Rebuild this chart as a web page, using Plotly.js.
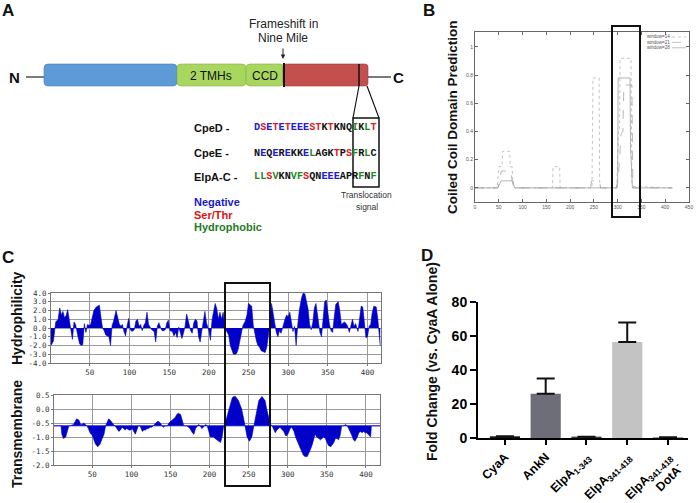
<!DOCTYPE html>
<html><head><meta charset="utf-8">
<script src="https://cdn.plot.ly/plotly-3.0.1.min.js"></script>
<style>html,body{margin:0;padding:0;background:#fff}#c{width:696px;height:503px}</style>
</head><body><div id="c"></div>
<script>
// ---------- Panel A: sequences ----------
const seqNames = ['CpeD -', 'CpeE -', 'ElpA-C -'];
const seqs = ['DSETETEEESTKTKNQIKLT', 'NEQEREKKELAGKTPSFRLC', 'LLSVKNVFSQNEEEAPRFNF'];
const seqCodes = ['brbrbrbbbrrkrkkkgkgr', 'kbkbkbkkbgkkkrkrgkgk', 'ggrgkkggrkkbbbkkkgkg'];
const legendA = ['Negative', 'Ser/Thr', 'Hydrophobic'];

// ---------- Panel B: coiled coil prediction ----------
const ccX14 = [0,44,47,50,57,58,73,74,78,80,84,163,164,178,179,246,248,261,262,264,298,302,304,305,328,330,334,415];
const ccY14 = [0,0,0.02,0.15,0.15,0.26,0.26,0.15,0.15,0.02,0,0,0.15,0.15,0,0,0.78,0.78,0.05,0,0,0.4,0.4,0.92,0.92,0.02,0.01,0];
const ccX21 = [0,48,52,55,75,78,82,243,245,262,264,299,303,307,311,313,330,332,415];
const ccY21 = [0,0,0.05,0.12,0.12,0.05,0,0,0.05,0.05,0,0,0.15,0.38,0.4,0.73,0.73,0,0];
const ccX28 = [0,48,52,55,80,83,297,300,301,326,327,331,415];
const ccY28 = [0,0,0.03,0.05,0.05,0,0,0.05,0.78,0.78,0.29,0,0];
const ccNames = ['window=14', 'window=21', 'window=28'];

// ---------- Panel C: hydrophilicity ----------
const hydroRes = [1,4,6,7,10,12,14,16,18,20,22,24,26,28,30,32,34,37,39,41,43,45,47,49,51,53,55,58,60,62,64,66,68,70,74,76,78,80,83,85,87,89,91,93,95,97,99,101,103,106,108,110,112,114,116,118,120,122,124,126,128,131,133,135,137,139,141,143,145,147,149,151,154,156,158,160,162,164,166,168,170,172,174,177,179,181,183,185,187,189,191,193,195,197,200,202,204,206,208,210,212,214,216,218,220,222,225,227,229,231,233,235,237,239,241,243,246,248,250,252,254,256,258,260,262,264,266,269,271,273,275,277,279,281,283,285,287,289,291,294,296,298,300,302,304,306,308,310,312,314,317,319,321,323,325,327,329,331,333,335,337,340,342,344,346,348,350,352,354,356,358,360,363,365,367,369,371,373,375,377,379,381,383,385,388,390,392,394,396,398,400,402,404,406,408,411,413,415,416];
const hydroVal = [-2.0,-1.5,0,0.7,1.0,2.3,1.5,1.9,1.2,1.4,2.1,0.8,-0.3,-1.3,0.7,0.4,-0.5,-1.8,-2.0,-1.9,0.5,-0.5,0.4,0.3,0.4,1.2,2.0,2.4,2.5,2.6,1.2,0,-0.3,-0.8,-1.0,-2.0,0.3,0.8,2.0,1.3,0.5,0.2,0.4,-0.4,-0.9,0.3,1.1,-0.2,-0.4,-0.2,0.8,1.0,0.2,0.4,-0.3,0.3,0.6,1.8,0.4,0.1,-0.2,-0.4,-1.6,0.2,0.6,0.1,-0.3,-0.3,-0.2,0.6,0.9,-0.3,-0.4,-0.9,-0.5,-1.1,0.1,-0.5,-1.2,-0.6,0.2,1.6,0.9,-0.3,-0.6,0.6,1.0,0.8,-1.0,-1.6,-0.4,0.9,1.9,0.6,-0.3,-1.4,0.9,1.9,2.8,2.2,1.0,1.8,1.0,1.8,0.3,-0.3,-0.8,-2.0,-2.6,-3.0,-3.0,-2.9,-2.4,-1.6,-0.5,0.3,0.8,1.5,2.8,2.6,2.5,0.3,-0.8,-1.5,-2.0,-2.2,-2.6,-2.7,-2.8,-2.2,-1.0,0.5,2.8,1.5,0.3,-0.5,-1.0,-0.3,-0.6,0.5,1.0,1.5,1.3,1.8,0.7,-0.4,0.2,-2.0,0.3,2.0,3.5,4.0,3.9,3.0,2.2,0.4,-0.2,0.6,2.3,2.8,1.6,-0.5,-1.0,1.0,3.0,3.2,1.8,0.4,-0.3,-0.5,1.2,2.7,3.0,2.0,0.4,0.6,0.7,0.5,0.2,-0.5,0.3,1.0,0.2,0.5,-0.4,1.2,2.5,2.4,0.2,-1.1,-1.0,0.2,0.4,1.8,2.5,2.4,1.0,-1.7,-2.0];

// ---------- Panel C: transmembrane ----------
const tmRes = [1,10,11,13,16,18,20,22,26,28,30,33,35,37,39,41,43,45,47,50,52,54,57,60,62,65,67,69,71,73,75,77,79,82,84,86,88,90,92,94,97,99,101,103,105,107,109,111,114,116,118,120,122,124,126,128,131,133,135,137,139,141,143,146,148,150,152,154,156,158,160,163,165,167,169,171,173,175,178,180,182,184,186,188,190,192,195,197,199,201,203,205,207,209,212,214,216,218,220,222,224,227,229,231,233,237,241,244,246,248,251,254,256,259,261,263,267,271,273,276,278,280,282,284,286,288,290,293,295,297,299,301,303,305,308,310,312,316,320,322,325,327,329,331,333,335,337,340,342,344,346,348,350,352,355,359,361,363,365,367,369,372,374,376,378,380,382,384,386,389,391,393,395,397,399,401,406,407,418];
const tmVal = [-0.6,-0.6,-0.9,-1.05,-1.0,-0.8,-0.6,-0.6,-0.55,-0.45,-0.35,-0.4,-0.55,-0.55,-0.5,-0.55,-0.6,-0.7,-0.85,-0.95,-1.1,-1.25,-1.35,-1.25,-1.1,-0.9,-0.6,-0.45,-0.35,-0.4,-0.5,-0.55,-0.6,-0.7,-0.8,-0.75,-0.65,-0.7,-0.75,-0.7,-0.75,-0.75,-0.7,-0.8,-0.9,-0.75,-0.6,-0.6,-0.8,-0.75,-0.75,-0.7,-0.7,-0.65,-0.65,-0.6,-0.5,-0.45,-0.45,-0.5,-0.6,-0.65,-0.6,-0.6,-0.5,-0.45,-0.4,-0.35,-0.3,-0.2,-0.15,-0.2,-0.4,-0.6,-0.6,-0.6,-0.65,-0.7,-0.85,-0.9,-0.7,-0.6,-0.55,-0.6,-0.7,-0.65,-0.55,-0.6,-0.8,-1.0,-1.0,-1.0,-1.05,-1.1,-1.15,-1.2,-1.0,-0.6,-0.5,-0.3,-0.05,0.2,0.4,0.45,0.45,0.3,0.0,-0.4,-0.7,-1.0,-1.15,-1.0,-0.7,-0.3,0.0,0.3,0.45,0.3,0.0,-0.3,-0.55,-0.6,-0.75,-0.85,-0.75,-0.7,-0.65,-0.75,-0.8,-0.95,-0.95,-0.85,-0.7,-0.65,-0.8,-1.0,-1.15,-1.4,-1.65,-1.7,-1.7,-1.6,-1.45,-1.3,-1.1,-0.9,-1.0,-1.05,-1.1,-1.05,-1.0,-1.05,-1.15,-1.3,-1.35,-1.2,-1.05,-1.05,-1.1,-0.95,-0.6,-0.6,-0.55,-0.6,-0.7,-0.8,-0.95,-1.1,-1.15,-1.0,-0.85,-0.8,-0.85,-0.8,-0.85,-0.85,-1.0,-0.6,-0.6];
const tmBaseline = -0.6;

// ---------- Panel D: fold change ----------
const foldLabels = ['CyaA','AnkN','ElpA<sub>1-343</sub>','ElpA<sub>341-418</sub>','ElpA<sub>341-418</sub><br>DotA<sup>-</sup>'];
const foldVals = [1.0, 26, 0.8, 56.5, 0.4];
const foldErr = [0, 9, 0, 11.5, 0];

// ---------- helpers (pixel -> paper) ----------
const W = 696, H = 503;
const X = v => v / W, Y = v => 1 - v / H;
const FONT = 'Arial, Liberation Sans, sans-serif';
const shapes = [], ann = [];
function ln(x0, y0, x1, y1, w, c, dash) {
  shapes.push({type:'line', xref:'paper', yref:'paper', x0:X(x0), y0:Y(y0), x1:X(x1), y1:Y(y1),
    line:{width:w, color:c || '#000', dash: dash || 'solid'}, layer:'above'});
}
function box(x0, y0, x1, y1, w, c) {
  shapes.push({type:'rect', xref:'paper', yref:'paper', x0:X(x0), y0:Y(y1), x1:X(x1), y1:Y(y0),
    line:{width:w, color:c || '#000'}, fillcolor:'rgba(0,0,0,0)', layer:'above'});
}
function rrect(x0, y0, x1, y1, r, fill, lc) {
  const p = (a, b) => X(a) + ',' + Y(b);
  const d = 'M' + p(x0 + r, y0) + ' L' + p(x1 - r, y0) + ' Q' + p(x1, y0) + ' ' + p(x1, y0 + r) +
    ' L' + p(x1, y1 - r) + ' Q' + p(x1, y1) + ' ' + p(x1 - r, y1) + ' L' + p(x0 + r, y1) +
    ' Q' + p(x0, y1) + ' ' + p(x0, y1 - r) + ' L' + p(x0, y0 + r) + ' Q' + p(x0, y0) + ' ' + p(x0 + r, y0) + ' Z';
  shapes.push({type:'path', xref:'paper', yref:'paper', path:d, fillcolor:fill, line:{width:0.6, color:lc}, layer:'above'});
}
function txt(x, y, text, size, o) {
  o = o || {};
  ann.push(Object.assign({xref:'paper', yref:'paper', x:X(x), y:Y(y), text:text, showarrow:false,
    xanchor:'center', yanchor:'middle', font:{family:FONT, size:size, color:'#111'}}, o));
}

// ---------- Panel A drawing ----------
txt(8, 11, '<b>A</b>', 17);
txt(14, 77, '<b>N</b>', 15);
ln(26, 77, 44, 77, 1.2, '#222');
rrect(44, 64, 177, 86, 4, '#5e9ad8', '#4a7fb8');
rrect(177, 64, 246, 86, 4, '#a8d65e', '#86b040');
rrect(246, 64, 284, 86, 4, '#a8d65e', '#86b040');
rrect(283, 64, 368, 86, 3, '#c4504e', '#a03c3a');
ln(284, 63, 284, 87, 2, '#111');
ln(359, 64, 359, 86, 1.5, '#111');
ln(368, 77, 391, 77, 1.2, '#222');
txt(398, 77, '<b>C</b>', 15);
txt(211, 76, '2 TMHs', 12);
txt(265, 76, 'CCD', 12);
txt(283, 24, 'Frameshift in', 12, {font:{family:FONT, size:12, color:'#222'}});
txt(283, 38, 'Nine Mile', 12, {font:{family:FONT, size:12, color:'#222'}});
ann.push({xref:'paper', yref:'paper', x:X(283), y:Y(59), ax:0, ay:-12, text:'', showarrow:true,
  arrowhead:2, arrowsize:0.9, arrowwidth:1, arrowcolor:'#222'});
// translocation callout
ln(359, 86, 353, 118, 1.2, '#111');
ln(367, 86, 379, 118, 1.2, '#111');
box(353, 118, 379, 187, 1.5, '#111');
txt(367, 195, 'Translocation', 8.5, {font:{family:FONT, size:8.5, color:'#333'}});
txt(367, 207, 'signal', 8.5, {font:{family:FONT, size:8.5, color:'#333'}});
const codeColor = {b:'#2020d0', r:'#e02020', g:'#208a20', k:'#111111'};
const rowY = [128, 153, 177];
seqs.forEach((s, i) => {
  let html = '';
  for (let j = 0; j < s.length; j++) html += '<span style="color:' + codeColor[seqCodes[i][j]] + '">' + s[j] + '</span>';
  txt(192, rowY[i], '<b>' + seqNames[i] + '</b>', 11, {xanchor:'left'});
  txt(252, rowY[i], '<b>' + html + '</b>', 10.2, {xanchor:'left', font:{family:'Liberation Mono, Courier New, monospace', size:10.2, color:'#111'}});
});
const legCols = ['#1a1acc', '#dd1111', '#1e7b1e'];
legendA.forEach((t, i) => txt(192, 202 + i * 12.5, '<b>' + t + '</b>', 11, {xanchor:'left', font:{family:FONT, size:11, color:legCols[i]}}));

// ---------- Panel B decorations ----------
txt(429, 11, '<b>B</b>', 17);
txt(453, 117, '<b>Coiled Coil Domain Prediction</b>', 13.5, {textangle:-90});
const ccStyles = [{dash:'dot', color:'#b4b4b4'}, {dash:'dash', color:'#a8a8a8'}, {dash:'solid', color:'#a0a0a0'}];
ccNames.forEach((n, i) => {
  txt(645, 37 + i * 5.4, n, 4.5, {xanchor:'left', font:{family:FONT, size:4.5, color:'#555'}});
  ln(672, 37 + i * 5.4, 686, 37 + i * 5.4, 0.7, ccStyles[i].color, ccStyles[i].dash);
});
box(612, 26, 640, 217, 2, '#111');

// ---------- Panel C decorations ----------
txt(8, 257, '<b>C</b>', 17);
txt(17, 318, '<b>Hydrophilicity</b>', 14, {textangle:-90});
txt(17, 434, '<b>Transmembrane</b>', 14, {textangle:-90});
box(225, 283, 270, 486, 2, '#111');

// ---------- Panel D decorations ----------
txt(427, 256, '<b>D</b>', 17);
txt(432, 362, '<b>Fold Change (vs. CyaA Alone)</b>', 14, {textangle:-90});

// ---------- traces ----------
const traces = [];
const ccX = [ccX14, ccX21, ccX28], ccY = [ccY14, ccY21, ccY28];
ccNames.forEach((n, i) => traces.push({x:ccX[i], y:ccY[i], name:n, mode:'lines', xaxis:'x', yaxis:'y',
  line:{width:0.8, dash:ccStyles[i].dash, color:ccStyles[i].color}, showlegend:false}));

traces.push({x:hydroRes, y:hydroVal, mode:'lines', fill:'tozeroy', fillcolor:'#0000c8',
  line:{width:0.6, color:'#0000c8'}, xaxis:'x2', yaxis:'y2', showlegend:false});

traces.push({x:[tmRes[0], tmRes[tmRes.length - 1]], y:[tmBaseline, tmBaseline], mode:'lines',
  line:{width:0.8, color:'#0000c8'}, xaxis:'x3', yaxis:'y3', showlegend:false});
traces.push({x:tmRes, y:tmVal, mode:'lines', fill:'tonexty', fillcolor:'#0000c8',
  line:{width:0.6, color:'#0000c8'}, xaxis:'x3', yaxis:'y3', showlegend:false});

traces.push({type:'bar', x:foldLabels.map((_, i) => i), y:foldVals, width:0.74,
  marker:{color:['#151515', '#6e6e78', '#3a3a3a', '#c3c3c3', '#777777']},
  error_y:{type:'data', symmetric:false, array:foldErr, arrayminus:foldErr.map(() => 0),
    thickness:2, width:9, color:'#111'},
  xaxis:'x4', yaxis:'y4', showlegend:false});

// ---------- axes ----------
const bTick = {family:FONT, size:5, color:'#555'};
const cTick = {family:'DejaVu Sans Mono, monospace', size:7.5, color:'#333'};
const hydTicks = [-4, -3, -2, -1, 0, 1, 2, 3, 4];
const tmTicks = [-2, -1.5, -1, -0.5, 0, 0.5];
const resTicks = [50, 100, 150, 200, 250, 300, 350, 400];
const layout = {
  width: W, height: H, margin:{l:0, r:0, t:0, b:0},
  paper_bgcolor:'#fff', plot_bgcolor:'rgba(0,0,0,0)', showlegend:false,
  xaxis:{domain:[475 / W, 689 / W], anchor:'y', range:[0, 450], tickvals:[0,50,100,150,200,250,300,350,400,450],
    ticks:'inside', ticklen:3, tickcolor:'#666', showline:true, linecolor:'#666', linewidth:1, mirror:'ticks',
    showgrid:false, zeroline:false, tickfont:bTick},
  yaxis:{domain:[Y(202), Y(32)], anchor:'x', range:[-0.1, 1.106], tickvals:[0, 0.2, 0.4, 0.6, 0.8, 1],
    ticktext:['0', '0.2', '0.4', '0.6', '0.8', '1'],
    ticks:'inside', ticklen:3, tickcolor:'#666', showline:true, linecolor:'#666', linewidth:1, mirror:'ticks',
    showgrid:false, zeroline:false, tickfont:bTick},
  xaxis2:{domain:[51 / W, 381 / W], anchor:'y2', range:[1, 417], tickvals:resTicks, ticks:'outside', ticklen:2,
    tickcolor:'#777', showline:true, linecolor:'#777', linewidth:1, mirror:true, showgrid:true, gridcolor:'#9a9a9a',
    gridwidth:1, zeroline:false, tickfont:cTick},
  yaxis2:{domain:[Y(363), Y(293)], anchor:'x2', range:[-4, 4], tickvals:hydTicks, ticktext:hydTicks.map(v => v.toFixed(1)),
    ticks:'outside', ticklen:2, tickcolor:'#777', showline:true, linecolor:'#777', linewidth:1, mirror:true,
    showgrid:true, gridcolor:'#9a9a9a', gridwidth:1, zeroline:false, tickfont:cTick},
  xaxis3:{domain:[54 / W, 380 / W], anchor:'y3', range:[1, 418], tickvals:resTicks, ticks:'outside', ticklen:2,
    tickcolor:'#777', showline:true, linecolor:'#777', linewidth:1, mirror:true, showgrid:true, gridcolor:'#9a9a9a',
    gridwidth:1, zeroline:false, tickfont:cTick},
  yaxis3:{domain:[Y(465), Y(395)], anchor:'x3', range:[-2, 0.5], tickvals:tmTicks, ticktext:tmTicks.map(v => v.toFixed(1)),
    ticks:'outside', ticklen:2, tickcolor:'#777', showline:true, linecolor:'#777', linewidth:1, mirror:true,
    showgrid:true, gridcolor:'#9a9a9a', gridwidth:1, zeroline:false, tickfont:cTick},
  xaxis4:{domain:[478 / W, 688 / W], anchor:'y4', range:[-0.66, 4.49], tickvals:[0, 1, 2, 3, 4],
    ticktext:foldLabels.map(t => '<b>' + t + '</b>'), tickangle:-45, ticks:'outside', ticklen:5, tickwidth:2,
    tickcolor:'#000', showline:true, linecolor:'#000', linewidth:2, showgrid:false, zeroline:false,
    tickfont:{family:FONT, size:12.3, color:'#000'}},
  yaxis4:{domain:[Y(438), Y(302)], anchor:'x4', range:[0, 80], tickvals:[0, 20, 40, 60, 80],
    ticktext:['<b>0</b>', '<b>20</b>', '<b>40</b>', '<b>60</b>', '<b>80</b>'], ticks:'outside', ticklen:6, tickwidth:2,
    tickcolor:'#000', showline:true, linecolor:'#000', linewidth:2, showgrid:false, zeroline:false,
    tickfont:{family:FONT, size:14, color:'#000'}},
  shapes: shapes, annotations: ann
};
Plotly.newPlot('c', traces, layout, {displayModeBar:false, staticPlot:true});
</script>
</body></html>
